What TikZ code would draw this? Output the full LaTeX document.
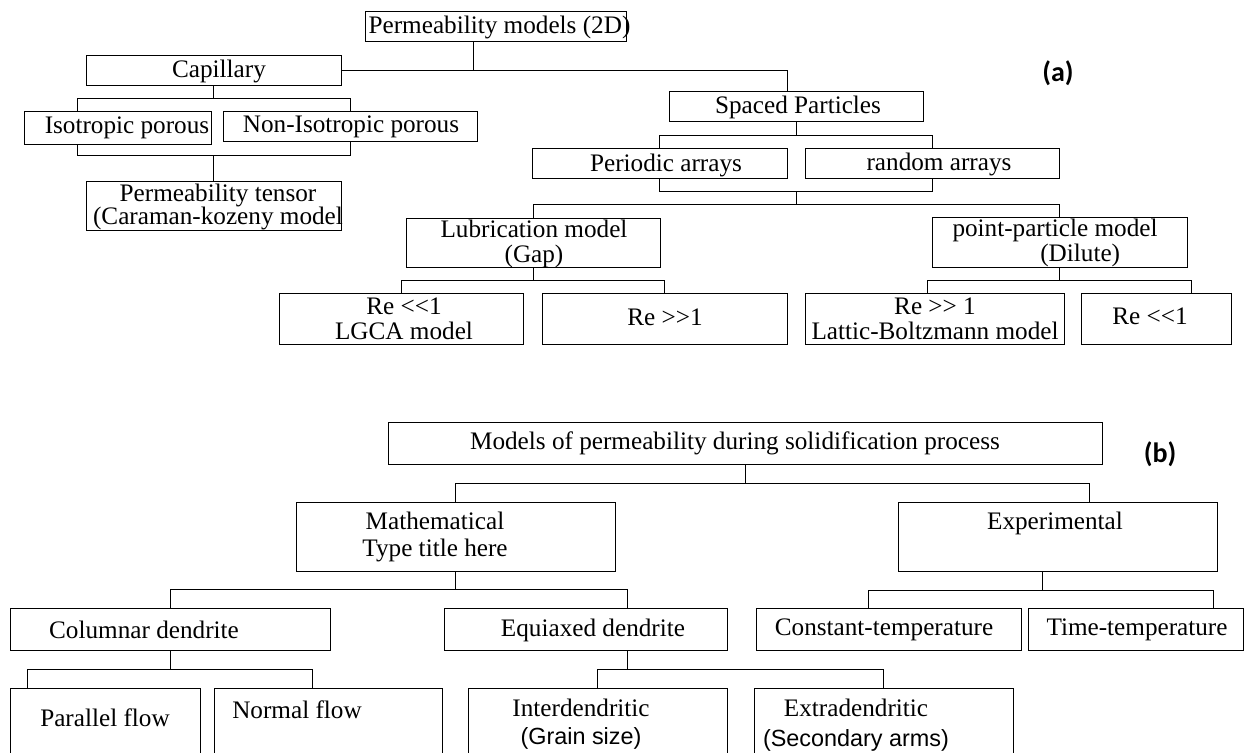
\documentclass[tikz,border=0pt]{standalone}
\usepackage{fontspec}
\setmainfont{Liberation Serif}
\newfontfamily\grainfont{Liberation Sans}
\newfontfamily\tagfont{Carlito}
% box from left/top to right/bottom, in picture pixels
\newcommand{\blk}[5]{\node[box, minimum width={(#4-#2)*0.5pt}, minimum height={(#5-#3)*0.5pt}] (#1) at ({(#2+#4)/2},{(#3+#5)/2}) {};}

\begin{document}
\begin{tikzpicture}[x=0.5pt, y=-0.5pt, line width=0.5pt,
  box/.style={draw, rectangle, inner sep=0pt, outer sep=0pt},
  txt/.style={inner sep=0pt, align=center, font=\fontsize{12.6}{14}\selectfont},
  tag/.style={inner sep=0pt, font=\tagfont\bfseries\fontsize{14}{16}\selectfont}]
\useasboundingbox (0,0) rectangle (1245,753);

% (a)
\blk{root}{365}{12}{626}{42}
\blk{cap}{86}{56}{341}{86}
\blk{iso}{24}{112}{211}{145}
\blk{niso}{223}{112}{477}{142}
\blk{tensor}{86}{182}{341}{231}
\blk{sp}{669}{92}{923}{122}
\blk{per}{532}{149}{787}{179}
\blk{ran}{805}{149}{1059}{179}
\blk{lub}{406}{219}{660}{268}
\blk{pp}{932}{218}{1187}{268}
\blk{lg}{279}{294}{523}{344}
\blk{rg}{542}{294}{787}{344}
\blk{lat}{805}{294}{1064}{344}
\blk{rl}{1081}{294}{1231}{344}

\node[txt] (rootT) at (499.5,27) {Permeability models (2D)};
\node[txt] (capT) at (219,71) {Capillary};
\node[txt] (isoT) at (127,128) {Isotropic porous};
\node[txt] (nisoT) at (351,127) {Non-Isotropic porous};
\node[txt] (tensorT) at (218,207) {Permeability tensor\\[-2.5pt](Caraman-kozeny model};
\node[txt] (spT) at (798,107) {Spaced Particles};
\node[txt] (perT) at (666,165) {Periodic arrays};
\node[txt] (ranT) at (939,164) {random arrays};
\node[txt] (lubT) at (534,244) {Lubrication model\\[-1.5pt](Gap)};
\node[txt] (ppT) at (1055,243) {point-particle model\\[-1.5pt]\hspace{2em}(Dilute)};
\node[txt] (lgT) at (404,319) {Re <\kern0pt<1\\[-1.5pt]LGCA model};
\node[txt] (rgT) at (665,317) {Re >\kern0pt>1};
\node[txt] (latT) at (935,319) {Re >\kern0pt> 1\\[-1.5pt]Lattic-Boltzmann model};
\node[txt] (rlT) at (1150,316) {Re <\kern0pt<1};
\node[tag] (tagA) at (1058,73) {(a)};

\draw ([xshift=-11.25pt]root.south) |- (cap.east);
\draw (cap.east) -| ([xshift=-4.5pt]sp.north);
\draw (cap.south) -- ++(0,13) -| ([xshift=-20.25pt]iso.north);
\draw (cap.south) -- ++(0,13) -| (niso.north);
\draw ([xshift=-20.25pt]iso.south) -- ++(0,11) -| (tensor.north);
\draw (niso.south) -- ++(0,14) -| (tensor.north);
\draw (sp.south) -- ++(0,14) -| (per.north);
\draw (sp.south) -- ++(0,14) -| (ran.north);
\draw (per.south) -- ++(0,13) coordinate (pr) -| (ran.south);
\draw (sp.south |- pr) -- ++(0,13) -| (lub.north);
\draw (sp.south |- pr) -- ++(0,13) -| (pp.north);
\draw (lub.south) -- ++(0,13) -| (lg.north);
\draw (lub.south) -- ++(0,13) -| (rg.north);
\draw (pp.south) -- ++(0,13) -| ([xshift=-3.75pt]lat.north);
\draw (pp.south) -- ++(0,13) -| ([xshift=17.5pt]rl.north);

% (b)
\blk{mod}{388}{422}{1102}{464}
\blk{math}{296}{502}{615}{571}
\blk{exp}{898}{502}{1217}{571}
\blk{col}{10}{608}{330}{650}
\blk{equ}{444}{608}{727}{650}
\blk{con}{756}{608}{1021}{650}
\blk{tim}{1028}{608}{1243}{650}
\blk{par}{10}{688}{200}{780}
\blk{nor}{214}{688}{442}{780}
\blk{int}{468}{688}{727}{780}
\blk{ext}{754}{688}{1013}{780}

\node[txt] (modT) at (735,443) {Models of permeability during solidification process};
\node[txt] (mathT) at (435,537) {Mathematical\\[-0.5pt]Type title here};
\node[txt] (expT) at (1055,523) {Experimental};
\node[txt] (colT) at (144,630) {Columnar dendrite};
\node[txt] (equT) at (593,630) {Equiaxed dendrite};
\node[txt] (conT) at (884,630) {Constant-temperature};
\node[txt] (timT) at (1137,630) {Time-temperature};
\node[txt] (parT) at (105,718) {Parallel flow};
\node[txt] (norT) at (297,710) {Normal flow};
\node[txt] (intT) at (581,724) {Interdendritic\\{\grainfont\fontsize{11.7}{14}\selectfont (Grain size)}};
\node[txt] (extT) at (856,725) {Extradendritic\\[1pt]{\grainfont\fontsize{11.7}{14}\selectfont (Secondary arms)}};
\node[tag] (tagB) at (1160,454) {(b)};

\draw (mod.south) -- ++(0,19) -| (math.north);
\draw (mod.south) -- ++(0,19) -| ([xshift=15.75pt]exp.north);
\draw (math.south) -- ++(0,18) -| (col.north);
\draw (math.south) -- ++(0,18) -| ([xshift=20.75pt]equ.north);
\draw ([xshift=-7.75pt]exp.south) -- ++(0,19) -| ([xshift=-10.25pt]con.north);
\draw ([xshift=-7.75pt]exp.south) -- ++(0,19) -| ([xshift=38.75pt]tim.north);
\draw (col.south) -- ++(0,19) -| ([xshift=-38.6pt]par.north);
\draw (col.south) -- ++(0,19) -| ([xshift=-7.65pt]nor.north);
\draw ([xshift=20.75pt]equ.south) -- ++(0,19) -| (int.north);
\draw ([xshift=20.75pt]equ.south) -- ++(0,19) -| (ext.north);

\end{tikzpicture}
\end{document}
